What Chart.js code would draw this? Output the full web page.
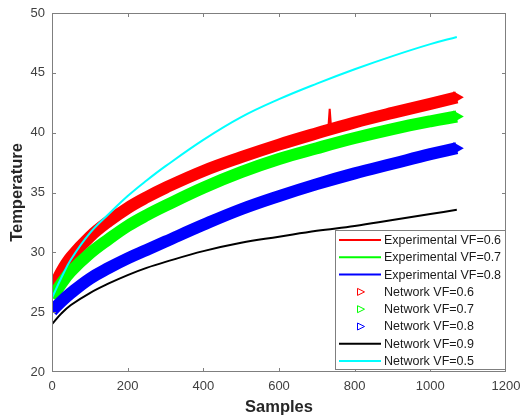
<!DOCTYPE html>
<html><head><meta charset="utf-8">
<script src="https://cdn.jsdelivr.net/npm/chart.js@4/dist/chart.umd.min.js"></script>
<style>html,body{margin:0;padding:0;background:#fff;}#wrap{width:520px;height:417px;}</style>
</head><body><div id="wrap"><canvas id="c" width="520" height="417"></canvas></div>
<script>
// ---- data ----
const samples   = [0, 25, 50, 100, 150, 200, 250, 300, 400, 500, 600, 700, 800, 900, 1000, 1070];
const netVF06   = [26.8, 28.4, 29.6, 31.3, 32.6, 33.7, 34.6, 35.4, 36.8, 37.95, 39.0, 39.95, 40.85, 41.65, 42.4, 42.95];
const netVF07   = [26.2, 27.4, 28.4, 29.9, 31.1, 32.2, 33.1, 33.9, 35.4, 36.7, 37.8, 38.7, 39.55, 40.3, 40.95, 41.35];
const netVF08   = [25.1, 25.9, 26.6, 27.8, 28.7, 29.5, 30.2, 30.9, 32.3, 33.6, 34.7, 35.7, 36.6, 37.4, 38.2, 38.7];
const netVF09   = [24.0, 24.9, 25.6, 26.6, 27.4, 28.1, 28.7, 29.2, 30.1, 30.8, 31.3, 31.8, 32.2, 32.7, 33.2, 33.55];
const netVF05   = [26.2, 27.9, 29.4, 31.6, 33.2, 34.7, 36.0, 37.2, 39.4, 41.3, 42.8, 44.1, 45.3, 46.4, 47.4, 48.0];
const expSamples06 = [0, 25, 50, 100, 150, 200, 250, 300, 400, 500, 600, 700, 730, 734, 738, 800, 900, 1000, 1070];
const expVF06   = [26.8, 28.4, 29.6, 31.3, 32.6, 33.7, 34.6, 35.4, 36.8, 37.95, 39.0, 39.95, 40.2, 42.0, 40.25, 40.85, 41.65, 42.4, 42.95];
const expVF07   = netVF07.slice();
const expVF08   = netVF08.slice();
const legendLabels = ['Experimental VF=0.6','Experimental VF=0.7','Experimental VF=0.8',
  'Network VF=0.6','Network VF=0.7','Network VF=0.8','Network VF=0.9','Network VF=0.5'];
const xTickStep = 200, yTickStep = 5;

const FONT = '"Liberation Sans", Arial, Helvetica, sans-serif';
const pts = (xs, ys) => xs.map((x, i) => ({x, y: ys[i]}));

function lineDs(label, xs, ys, color, order, smooth) {
  return {label, data: pts(xs, ys), borderColor: color, backgroundColor: color,
    borderWidth: 2, pointRadius: 0,
    tension: smooth === false ? 0 : 0.4,
    order, legendKind: 'line'};
}
function bandDs(label, xs, ys, color, order) {
  return {label, data: pts(xs, ys), borderColor: color, backgroundColor: color,
    borderWidth: 12, borderCapStyle: 'butt', borderJoinStyle: 'round',
    tension: 0.4, pointStyle: 'triangle', rotation: 90,
    pointBorderWidth: 0, pointBackgroundColor: color,
    pointRadius: c => c.dataIndex === c.dataset.data.length - 1 ? 7 : 0,
    order, legendKind: 'marker'};
}

const datasets = [
  lineDs(legendLabels[0], expSamples06, expVF06, '#ff0000', 8, false),
  lineDs(legendLabels[1], samples, expVF07, '#00ff00', 7),
  lineDs(legendLabels[2], samples, expVF08, '#0000ff', 6),
  bandDs(legendLabels[3], samples, netVF06, '#ff0000', 5),
  bandDs(legendLabels[4], samples, netVF07, '#00ff00', 4),
  bandDs(legendLabels[5], samples, netVF08, '#0000ff', 3),
  lineDs(legendLabels[6], samples, netVF09, '#000000', 2),
  lineDs(legendLabels[7], samples, netVF05, '#00ffff', 1)
];

const framePlugin = {
  id: 'frame',
  afterDatasetsDraw(chart) {
    const {ctx, chartArea: a, scales: {x, y}} = chart;
    ctx.save();
    ctx.strokeStyle = '#7f7f7f';
    ctx.lineWidth = 1;
    ctx.strokeRect(a.left + 0.5, a.top + 0.5, a.right - a.left - 1, a.bottom - a.top - 1);
    ctx.beginPath();
    x.ticks.forEach(t => {
      if (t.value <= x.min || t.value >= x.max) return;
      const px = Math.round(x.getPixelForValue(t.value)) + 0.5;
      ctx.moveTo(px, a.bottom); ctx.lineTo(px, a.bottom - 4);
      ctx.moveTo(px, a.top); ctx.lineTo(px, a.top + 4);
    });
    y.ticks.forEach(t => {
      if (t.value <= y.min || t.value >= y.max) return;
      const py = Math.round(y.getPixelForValue(t.value)) + 0.5;
      ctx.moveTo(a.left, py); ctx.lineTo(a.left + 4, py);
      ctx.moveTo(a.right, py); ctx.lineTo(a.right - 4, py);
    });
    ctx.stroke();
    ctx.restore();
  }
};

const legendPlugin = {
  id: 'boxLegend',
  afterDraw(chart) {
    const {ctx, chartArea: a} = chart;
    const left = 335, top = 230, right = a.right, bottom = 370;
    const y0 = 240, dy = 17.3;
    ctx.save();
    ctx.fillStyle = '#ffffff';
    ctx.fillRect(left, top, right - left, bottom - top);
    ctx.strokeStyle = '#7f7f7f';
    ctx.lineWidth = 1;
    ctx.strokeRect(left + 0.5, top + 0.5, right - left - 1, bottom - top - 1);
    ctx.font = '12.5px ' + FONT;
    ctx.textBaseline = 'middle';
    ctx.textAlign = 'left';
    chart.data.datasets.forEach((ds, i) => {
      const cy = y0 + i * dy;
      if (ds.legendKind === 'marker') {
        ctx.beginPath();
        ctx.moveTo(357.5, cy - 3.5);
        ctx.lineTo(364.5, cy);
        ctx.lineTo(357.5, cy + 3.5);
        ctx.closePath();
        ctx.strokeStyle = ds.borderColor;
        ctx.lineWidth = 1;
        ctx.stroke();
      } else {
        ctx.beginPath();
        ctx.moveTo(339, cy);
        ctx.lineTo(381, cy);
        ctx.strokeStyle = ds.borderColor;
        ctx.lineWidth = 2;
        ctx.stroke();
      }
      ctx.fillStyle = '#1a1a1a';
      ctx.fillText(ds.label, 384, cy + 0.5);
    });
    ctx.restore();
  }
};

new Chart(document.getElementById('c'), {
  type: 'line',
  data: {datasets},
  options: {
    responsive: false, animation: false, devicePixelRatio: 1,
    layout: {padding: {top: 13, right: 14, left: 0, bottom: 0}},
    plugins: {legend: {display: false}, tooltip: {enabled: false}},
    scales: {
      x: {
        type: 'linear', min: 0, max: 1200,
        ticks: {stepSize: xTickStep, color: '#404040', font: {family: FONT, size: 13}, padding: 7, maxRotation: 0, autoSkip: false,
          callback: v => String(v)},
        grid: {display: false, drawTicks: false}, border: {display: false},
        title: {display: true, text: 'Samples', color: '#262626', font: {family: FONT, size: 16.5, weight: 'bold'}, padding: {top: 0, bottom: 0}},
        afterFit(s) { s.height = 45; s.paddingLeft = 0; s.paddingRight = 0; }
      },
      y: {
        type: 'linear', min: 20, max: 50,
        ticks: {stepSize: yTickStep, color: '#404040', font: {family: FONT, size: 13}, padding: 7, callback: v => String(v)},
        grid: {display: false, drawTicks: false}, border: {display: false},
        title: {display: true, text: 'Temperature', color: '#262626', font: {family: FONT, size: 16.5, weight: 'bold'}, padding: {top: 8, bottom: 0}},
        afterFit(s) { s.width = 52; s.paddingTop = 0; s.paddingBottom = 0; }
      }
    }
  },
  plugins: [framePlugin, legendPlugin]
});
</script>
</body></html>
